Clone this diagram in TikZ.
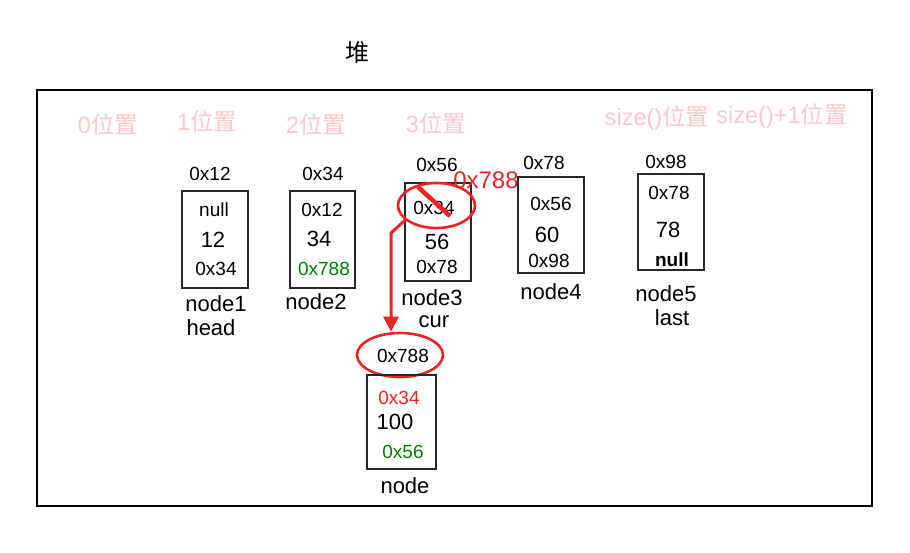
\documentclass[tikz,border=0pt]{standalone}
\usepackage{fontspec}
\setmainfont{Liberation Sans}
\newfontfamily\cjk{Noto Sans CJK SC}
\usetikzlibrary{shapes.geometric,arrows.meta}
\definecolor{posc}{RGB}{255,200,200}
\definecolor{redc}{RGB}{240,35,35}
\definecolor{greenc}{RGB}{0,128,0}
\definecolor{boxc}{RGB}{40,40,40}
\tikzset{
  every node/.style={inner sep=0pt},
  cell/.style={draw=boxc, line width=1.3pt, rectangle, minimum width=66pt, minimum height=97pt},
  addr/.style={font=\fontsize{19}{19}\selectfont},
  val/.style={font=\fontsize{22}{22}\selectfont},
  lbl/.style={font=\fontsize{22}{22}\selectfont},
  poslbl/.style={text=posc, font=\fontsize{23.5}{23.5}\selectfont},
  ring/.style={draw=redc, line width=2.6pt, ellipse},
}
\begin{document}
\begin{tikzpicture}[x=1pt,y=-1pt]
\useasboundingbox (0,0) rectangle (910,553);
% heap
\node[font=\cjk\fontsize{24}{24}\selectfont] (title) at (357,52) {堆};
\node[draw=black, line width=2.5pt, minimum width=835pt, minimum height=416pt] (heap) at (454.5,298) {};
% position labels
\node[poslbl] (p0) at (108,124) {0{\cjk 位置}};
\node[poslbl] (p1) at (207,121) {1{\cjk 位置}};
\node[poslbl] (p2) at (316,124) {2{\cjk 位置}};
\node[poslbl] (p3) at (436,123) {3{\cjk 位置}};
\node[poslbl] (ps) at (657,118) {size(){\cjk 位置}};
\node[poslbl] (ps1) at (782,116) {size()+1{\cjk 位置}};
% node1
\node[cell] (b1) at (215,239.5) {};
\node[addr] (a1) at (210,174) {0x12};
\node[addr] (b1p) at (214,210) {null};
\node[val] (b1v) at (213,240) {12};
\node[addr] (b1n) at (216,269) {0x34};
\node[lbl] (l1) at (216,304) {node1};
\node[lbl] (h1) at (211,328) {head};
% node2
\node[cell, minimum width=65pt] (b2) at (322.5,239.5) {};
\node[addr] (a2) at (323,174) {0x34};
\node[addr] (b2p) at (322,210) {0x12};
\node[val] (b2v) at (319,239) {34};
\node[addr, text=greenc] (b2n) at (324,269) {0x788};
\node[lbl] (l2) at (316,302) {node2};
% node3
\node[cell, minimum height=98pt] (b3) at (438,232) {};
\node[addr] (a3) at (437,165) {0x56};
\node[addr] (b3p) at (434,208) {0x34};
\node[val] (b3v) at (437,242) {56};
\node[addr] (b3n) at (437,267) {0x78};
\node[lbl] (l3) at (432,298) {node3};
\node[lbl] (c3) at (434,322) {cur};
\node[ring, minimum width=77pt, minimum height=45pt] (e3) at (436.5,205.5) {};
\draw[redc, line width=4.5pt] (418,187) -- (450,216);
\node[text=redc, font=\fontsize{24}{24}\selectfont] (r788) at (486,180) {0x788};
% node4
\node[cell, minimum height=96pt] (b4) at (551,225) {};
\node[addr] (a4) at (544,163) {0x78};
\node[addr] (b4p) at (551,204) {0x56};
\node[val] (b4v) at (547,235) {60};
\node[addr] (b4n) at (549,261) {0x98};
\node[lbl] (l4) at (551,292) {node4};
% node5
\node[cell, minimum height=96pt] (b5) at (671,222) {};
\node[addr] (a5) at (666,162) {0x98};
\node[addr] (b5p) at (669,193) {0x78};
\node[val] (b5v) at (668,230) {78};
\node[addr, font=\bfseries\fontsize{19}{19}\selectfont] (b5n) at (672,260) {null};
\node[lbl] (l5) at (666,294) {node5};
\node[lbl] (la5) at (672,318) {last};
% new node
\node[ring, minimum width=86pt, minimum height=44pt] (e788) at (400,355) {};
\node[addr] (a6) at (403,356) {0x788};
\node[cell, minimum width=69pt, minimum height=94pt] (b6) at (401.5,422) {};
\node[addr, text=redc] (b6p) at (399,398) {0x34};
\node[val] (b6v) at (395,422) {100};
\node[addr, text=greenc] (b6n) at (403,452) {0x56};
\node[lbl] (l6) at (405,486) {node};
% arrow
\coordinate (bend) at (391,233);
\draw[redc, line width=3pt, -{Triangle[length=15pt,width=15pt]}] (e3.205) -- (bend) -- (bend |- e788.north);
\end{tikzpicture}
\end{document}
